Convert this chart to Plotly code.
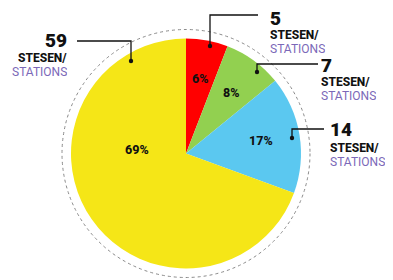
import math
import plotly.graph_objects as go

categories = ["A", "B", "C", "D"]
values = [5, 7, 14, 59]
pct_labels = ["6%", "8%", "17%", "69%"]
colors = ["#FF0000", "#92D050", "#5BC8F0", "#F5E617"]
count_labels = ["5", "7", "14", "59"]
line1 = "STESEN/"
line2 = "STATIONS"

# page body has an 8px margin: figure is offset by (8, 8)
OFF = 8
W, H = 385, 272
cx, cy, r = 186, 153.5, 115

def px(x):
    return (x - OFF) / W

def py(y):
    return 1 - (y - OFF) / H

fig = go.Figure()
fig.add_trace(go.Pie(
    labels=categories, values=values, sort=False, direction="clockwise", rotation=0,
    marker=dict(colors=colors, line=dict(width=0)),
    textinfo="none", hoverinfo="skip",
    domain=dict(x=[px(cx - r), px(cx + r)], y=[py(cy + r), py(cy - r)]),
    showlegend=False,
))

shapes = []
R2 = 124
shapes.append(dict(type="circle", xref="paper", yref="paper",
                   x0=px(cx - R2), x1=px(cx + R2), y0=py(cy + R2), y1=py(cy - R2),
                   line=dict(color="#8a8a8a", width=1, dash="dot"), layer="below"))

# percentage labels placed along each slice's bisector
rad_frac = [0.66, 0.66, 0.66, 0.43]
ang_shift = [0, 0, 0, 40]
total = sum(values)
annotations = []
cum = 0
for v, lab, rf, sh in zip(values, pct_labels, rad_frac, ang_shift):
    mid = (cum + v / 2) / total * 360 + sh
    cum += v
    a = math.radians(mid)
    tx = cx + rf * r * math.sin(a)
    ty = cy - rf * r * math.cos(a)
    annotations.append(dict(x=px(tx), y=py(ty), xref="paper", yref="paper", text=lab,
                            showarrow=False, xanchor="center", yanchor="middle",
                            font=dict(family="Roboto", size=12.5, color="#111111", weight=800)))

# callouts: (dot x, dot y, elbow y, end x)
callouts = [
    (210, 46, 15, 258),
    (257, 72, 64, 318),
    (292, 138, 129, 324),
    (131, 61, 41, 77),
]
for (dx, dy, ey, ex) in callouts:
    shapes.append(dict(type="path", xref="paper", yref="paper",
                       path=f"M {px(dx)},{py(dy)} L {px(dx)},{py(ey)} L {px(ex)},{py(ey)}",
                       line=dict(color="#111111", width=1.3)))
    shapes.append(dict(type="circle", xref="paper", yref="paper", xsizemode="pixel", ysizemode="pixel",
                       xanchor=px(dx), yanchor=py(dy), x0=-2.2, x1=2.2, y0=-2.2, y1=2.2,
                       fillcolor="#111111", line=dict(width=0)))

# label anchors: (x, y_number, y_line1, y_line2, align)
label_pos = [
    (269, 18, 34, 48, "left"),
    (320, 65, 82, 96, "left"),
    (329, 129, 147, 161, "left"),
    (68, 40, 57.5, 71, "right"),
]
for lab, (lx, ly, l1, l2, al) in zip(count_labels, label_pos):
    annotations.append(dict(x=px(lx), y=py(ly), xref="paper", yref="paper", text=lab,
                            showarrow=False, xanchor=al, yanchor="middle", borderpad=0,
                            height=14, valign="middle",
                            font=dict(family="Roboto", size=19, color="#111111", weight=900)))
    annotations.append(dict(x=px(lx), y=py(l1), xref="paper", yref="paper", text=line1,
                            showarrow=False, xanchor=al, yanchor="middle", borderpad=0,
                            height=11, valign="middle",
                            font=dict(family="Roboto", size=12, color="#111111", weight=800)))
    annotations.append(dict(x=px(lx), y=py(l2), xref="paper", yref="paper", text=line2,
                            showarrow=False, xanchor=al, yanchor="middle", borderpad=0,
                            height=11, valign="middle",
                            font=dict(family="Roboto", size=12, color="#7B68B8")))

fig.update_layout(width=W, height=H, margin=dict(l=0, r=0, t=0, b=0),
                  paper_bgcolor="white", plot_bgcolor="white",
                  shapes=shapes, annotations=annotations)
fig.write_html("out.html")
